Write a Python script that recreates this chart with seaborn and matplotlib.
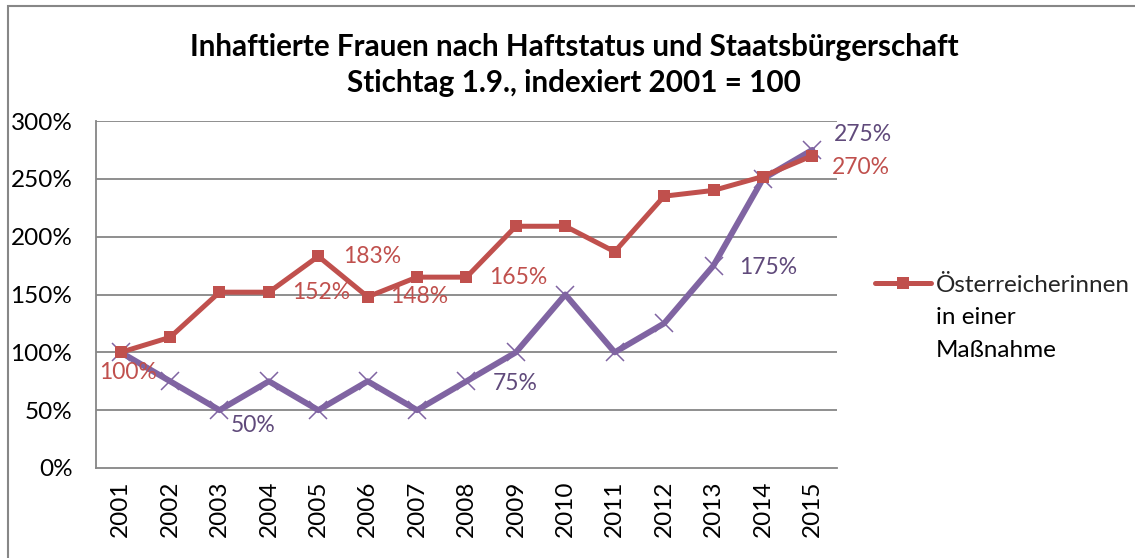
import matplotlib
matplotlib.use("Agg")
import matplotlib.pyplot as plt
import matplotlib.patches as mpatches
from matplotlib.lines import Line2D
import pandas as pd
import seaborn as sns

# --- data -------------------------------------------------------------
years = ["2001", "2002", "2003", "2004", "2005", "2006", "2007", "2008",
         "2009", "2010", "2011", "2012", "2013", "2014", "2015"]
oesterreicherinnen = [100, 113, 152, 152, 183, 148, 165, 165,
                      209, 209, 187, 235, 240, 252, 270]
zweite_gruppe = [100, 75, 50, 75, 50, 75, 50, 75,
                 100, 150, 100, 125, 175, 250, 275]
y_ticks = [0, 50, 100, 150, 200, 250, 300]

legend_label = "Österreicherinnen"
legend_more_lines = ["in einer", "Maßnahme"]
title_text = ("Inhaftierte Frauen nach Haftstatus und Staatsbürgerschaft\n"
              "Stichtag 1.9., indexiert 2001 = 100")

# points that carry a value label: (index, x offset px, y offset px, ha)
red_labels = [(0, 7, -20, "center"), (3, 23, 0, "left"), (4, 25, 0, "left"),
              (5, 22, 0, "left"), (7, 23, 0, "left"), (14, 20, -12, "left")]
purple_labels = [(2, 11, -15, "left"), (7, 26, -2, "left"),
                 (12, 26, -2, "left"), (14, 22, 15, "left")]

RED = "#C0504D"
PURPLE = "#8064A2"
PURPLE_TXT = "#604A7B"
GRID = "#868686"

sns.set_theme(style="white")
plt.rcParams["font.family"] = ["Lato", "DejaVu Sans"]

W, H = 1135, 558
fig = plt.figure(figsize=(W / 100, H / 100), dpi=100)
ax = fig.add_axes([96 / W, 1 - 468 / H, (837 - 96) / W, (468 - 121) / H])

df = pd.DataFrame({"pos": range(len(years)),
                   "oe": oesterreicherinnen,
                   "zw": zweite_gruppe})

sns.lineplot(data=df, x="pos", y="zw", ax=ax, color=PURPLE, linewidth=4.3,
             marker="x", markersize=13, markeredgewidth=1.1,
             markeredgecolor=PURPLE, zorder=3)
sns.lineplot(data=df, x="pos", y="oe", ax=ax, color=RED, linewidth=3.6,
             marker="s", markersize=8.5, markeredgewidth=0,
             zorder=4)

ax.set_xlim(-0.5, len(years) - 0.5)
ax.set_ylim(0, 300)
ax.set_yticks(y_ticks)
ax.set_yticklabels([f"{v}%" for v in y_ticks])
ax.set_xticks(range(len(years)))
ax.set_xticklabels(years, rotation=90)
ax.set_xlabel("")
ax.set_ylabel("")
ax.tick_params(axis="both", length=0, labelsize=17.5, colors="black")
ax.tick_params(axis="y", pad=17)
ax.tick_params(axis="x", pad=9)

for v in y_ticks[1:]:
    ax.axhline(v, color=GRID, linewidth=1.3, zorder=1)
for side in ["top", "right"]:
    ax.spines[side].set_visible(False)
for side in ["left", "bottom"]:
    ax.spines[side].set_color(GRID)
    ax.spines[side].set_linewidth(1.3)


def put_labels(values, spec, color):
    for i, dx, dy, ha in spec:
        ax.annotate(f"{values[i]}%", (i, values[i]),
                    xytext=(dx * 0.72, dy * 0.72), textcoords="offset points",
                    ha=ha, va="center", fontsize=16.5, color=color, zorder=5)


put_labels(oesterreicherinnen, red_labels, RED)
put_labels(zweite_gruppe, purple_labels, PURPLE_TXT)

# title
fig.text(574 / W, 1 - 33 / H, title_text, ha="center", va="top",
         fontsize=21.3, fontweight="bold", linespacing=1.36, color="black")

# legend
handle = Line2D([], [], color=RED, linewidth=3.6, marker="s", markersize=8.5,
                markeredgewidth=0)
leg = fig.legend([handle], [legend_label], loc="center left",
                 bbox_to_anchor=(875 / W, 1 - 285 / H), frameon=False,
                 fontsize=17.5, handlelength=2.3, handletextpad=0.2,
                 borderpad=0, borderaxespad=0)
for k, line in enumerate(legend_more_lines):
    fig.text(936 / W, 1 - (318 + 32.5 * k) / H, line, ha="left",
             va="center", fontsize=17.5, color="black")

# outer chart frame
fig.patches.append(mpatches.Rectangle((8 / W, -0.1), 1.2, 1 - 6 / H + 0.1,
                                      transform=fig.transFigure, fill=False,
                                      edgecolor="#878787", linewidth=1.5))

fig.savefig("out.png", dpi=100)
